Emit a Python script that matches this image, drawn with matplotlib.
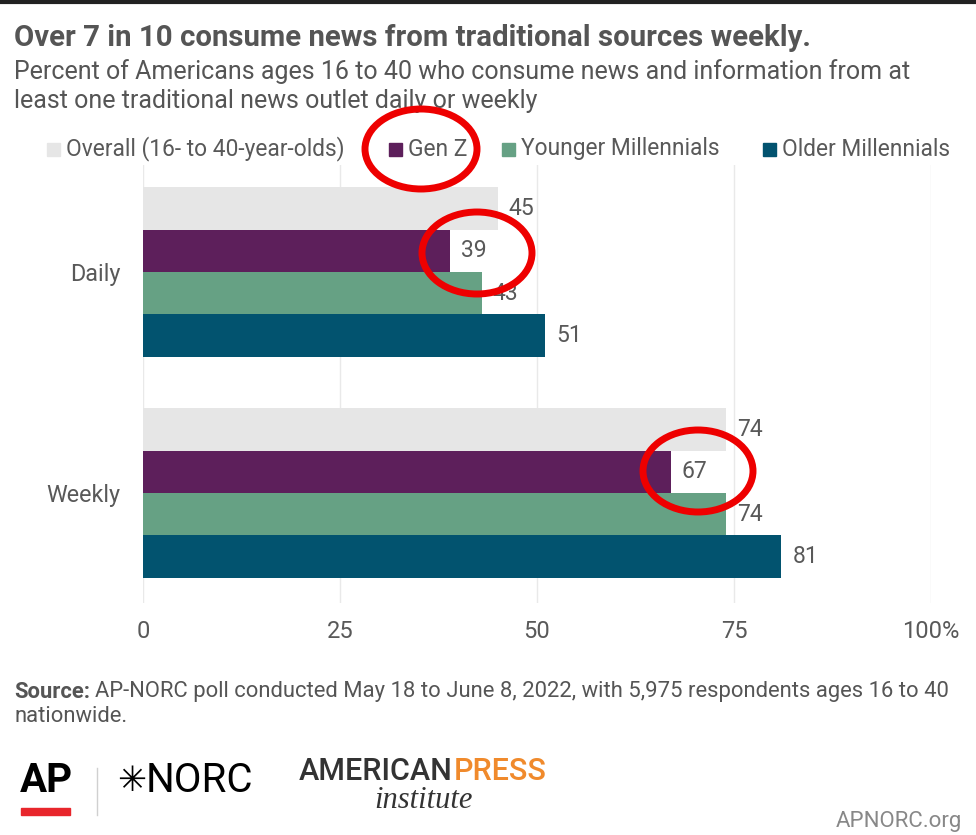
import matplotlib
matplotlib.use("Agg")
import matplotlib.pyplot as plt
from matplotlib.patches import Ellipse, Rectangle
from matplotlib.lines import Line2D
import numpy as np

plt.rcParams['font.family'] = ['Roboto', 'DejaVu Sans']

categories = ["Daily", "Weekly"]
series_names = ["Overall (16- to 40-year-olds)", "Gen Z", "Younger Millennials", "Older Millennials"]
overall = [45, 74]
gen_z = [39, 67]
younger_mill = [43, 74]
older_mill = [51, 81]
x_ticks = [0, 25, 50, 75, 100]
x_tick_labels = ["0", "25", "50", "75", "100%"]
colors = ["#e6e6e6", "#5d1f5b", "#66a184", "#02536f"]

W, H = 976, 835
fig = plt.figure(figsize=(W / 100, H / 100), dpi=100)
fig.patch.set_facecolor("white")

def fx(px):
    return px / W

def fy(py):
    return 1 - py / H

ax = fig.add_axes([fx(143), fy(603), fx(931) - fx(143), fy(165) - fy(603)])

values = [overall, gen_z, younger_mill, older_mill]
h = 0.192
offsets = [-1.5 * h, -0.5 * h, 0.5 * h, 1.5 * h]
ypos = np.arange(len(categories))
txt_col = "#595959"
for vals, off, c in zip(values, offsets, colors):
    bars = ax.barh(ypos + off, vals, height=h, color=c, zorder=3)
    for b, v in zip(bars, vals):
        ax.annotate(f"{v}", (b.get_width(), b.get_y() + b.get_height() / 2),
                    xytext=(11, 0), textcoords="offset pixels",
                    ha="left", va="center", fontsize=16.5, color=txt_col)

ax.set_xlim(0, 100)
ax.set_ylim(1.498, -0.484)
ax.set_xticks(x_ticks)
ax.set_xticklabels(x_tick_labels)
ax.set_yticks(ypos)
ax.set_yticklabels(categories)
ax.tick_params(axis="x", length=0, pad=12, labelsize=17, labelcolor=txt_col)
ax.tick_params(axis="y", length=0, pad=16, labelsize=16.8, labelcolor=txt_col)
for s in ax.spines.values():
    s.set_visible(False)
ax.grid(axis="x", color="#e9e9e9", lw=1, zorder=0)

# legend (manual layout)
leg_x = [47, 389, 502, 763]
for lx, name, c in zip(leg_x, series_names, colors):
    fig.add_artist(Rectangle((fx(lx), fy(156)), 13 / W, 13 / H, transform=fig.transFigure,
                             color=c))
    fig.text(fx(lx + 19), fy(149), name, fontsize=16.4, color=txt_col, va="center", ha="left")

# titles
fig.text(fx(14), fy(38), "Over 7 in 10 consume news from traditional sources weekly.",
         fontsize=21.2, fontweight="bold", color="#555555", va="center", ha="left")
fig.text(fx(14), fy(72), "Percent of Americans ages 16 to 40 who consume news and information from at",
         fontsize=18, color="#555555", va="center", ha="left")
fig.text(fx(14), fy(101), "least one traditional news outlet daily or weekly",
         fontsize=18, color="#555555", va="center", ha="left")

# source
t = fig.text(fx(14), fy(692), "Source:", fontsize=15.8, fontweight="bold", color="#555555",
             va="center", ha="left")
fig.canvas.draw()
bb = t.get_window_extent()
fig.text((bb.x1 + 5) / W, fy(692),
         "AP-NORC poll conducted May 18 to June 8, 2022, with 5,975 respondents ages 16 to 40",
         fontsize=15.8, color="#555555", va="center", ha="left")
fig.text(fx(14), fy(717), "nationwide.", fontsize=15.8, color="#555555", va="center", ha="left")

# logos
fig.text(fx(20), fy(781), "AP", fontsize=29, fontweight="bold", color="black",
         va="center", ha="left")
fig.add_artist(Rectangle((fx(21), fy(815)), fx(70) - fx(21), fy(808) - fy(815),
                         transform=fig.transFigure, color="#e8262c"))
fig.add_artist(Line2D([fx(97), fx(97)], [fy(768), fy(815)], transform=fig.transFigure,
                      color="#d0d0d0", lw=1))
fig.text(fx(117), fy(781), "\u2733", fontsize=25, color="black", va="center", ha="left",
         family=["DejaVu Sans"])
fig.text(fx(146), fy(781), "NORC", fontsize=29, color="black", va="center", ha="left")
t2 = fig.text(fx(299), fy(771), "AMERICAN", fontsize=22, color="#333333", va="center",
              ha="left", fontweight="medium")
fig.canvas.draw()
bb2 = t2.get_window_extent()
fig.text((bb2.x1 + 1) / W, fy(771), "PRESS", fontsize=22, color="#f08a2c", va="center",
         ha="left", fontweight="medium")
fig.text(fx(423), fy(801), "institute", fontsize=22, color="#333333", va="center",
         ha="center", family=["Liberation Serif", "DejaVu Serif"], style="italic")
fig.text(fx(962), fy(822), "APNORC.org", fontsize=16, color="#888888", va="center", ha="right")

# top border
fig.add_artist(Line2D([0, 1], [fy(2), fy(2)], transform=fig.transFigure, color="#222222", lw=3))

# red highlight ellipses
for cx, cy, ew, eh in [(421, 149, 112, 80), (477, 253, 110, 82), (698, 471, 110, 82)]:
    fig.add_artist(Ellipse((fx(cx), fy(cy)), ew / W, eh / H, transform=fig.transFigure,
                           fill=False, edgecolor="#ee0000", lw=5, zorder=10))

fig.savefig("out.png", dpi=100, facecolor="white")
